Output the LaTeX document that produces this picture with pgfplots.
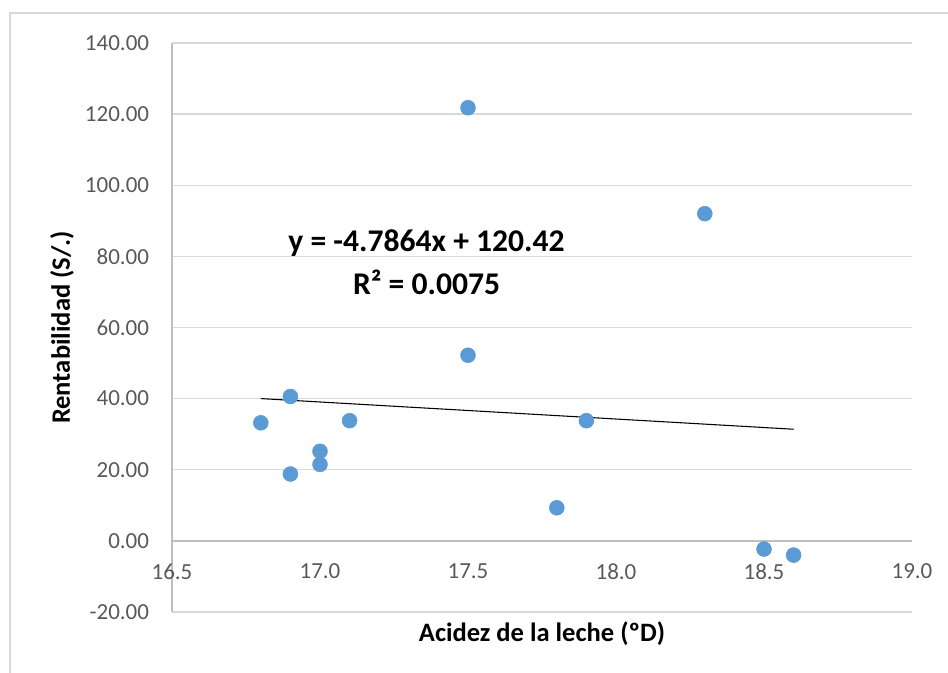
\documentclass[border=0pt]{standalone}
\usepackage{pgfplots}
\pgfplotsset{compat=1.18}
\usepackage{fontspec}
\setmainfont{Carlito}
\definecolor{ptblue}{HTML}{5B9BD5}
\definecolor{gridc}{HTML}{D9D9D9}
\definecolor{axisc}{HTML}{BFBFBF}
\definecolor{tickc}{HTML}{595959}
\begin{document}
\begin{tikzpicture}[x=0.75pt,y=0.75pt]
\useasboundingbox (0,0) rectangle (948,673);
\draw[gridc, line width=1.1pt] (10,0) -- (10,660) -- (948,660);
\begin{axis}[
  at={(129pt,45.75pt)}, anchor=south west,
  width=555pt, height=426.75pt, scale only axis,
  xmin=16.5, xmax=19, ymin=-20, ymax=140,
  enlargelimits=false, clip=false,
  axis x line=middle, axis y line=left,
  axis line style={-, axisc, line width=1.1pt},
  hide obscured x ticks=false, hide obscured y ticks=false,
  xtick={16.5,17,17.5,18,18.5,19},
  ytick={-20,0,20,40,60,80,100,120,140},
  major tick length=0pt,
  ymajorgrids, grid style={gridc, line width=1.1pt},
  /pgf/number format/assume math mode=true,
  xticklabel style={/pgf/number format/.cd, fixed, fixed zerofill, precision=1, /tikz/.cd, font=\fontsize{17.25}{20}\selectfont, text=tickc, anchor=north, inner sep=0pt, yshift=-17pt},
  yticklabel style={/pgf/number format/.cd, fixed, fixed zerofill, precision=2, /tikz/.cd, font=\fontsize{17.25}{20}\selectfont, text=tickc, anchor=east, inner sep=0pt, xshift=-17pt},
  xlabel={Acidez de la leche (ºD)},
  ylabel={Rentabilidad (S/.)},
  xlabel style={at={(axis description cs:0.5,-0.0387)}, anchor=center, font=\bfseries\fontsize{19.9}{24}\selectfont},
  ylabel style={at={(axis description cs:-0.1486,0.5)}, anchor=center, rotate=0, font=\bfseries\fontsize{19.9}{24}\selectfont},
]
\addplot[only marks, mark=*, mark size=5.6pt, mark options={fill=ptblue, draw=ptblue}] coordinates {
(16.8,33.2) (16.9,40.6) (16.9,18.8) (17.0,25.2) (17.0,21.5) (17.1,33.8)
(17.5,121.8) (17.5,52.2) (17.8,9.3) (17.9,33.8) (18.3,92.0) (18.5,-2.3) (18.6,-4.0)
};
\addplot[black, line width=0.8pt] coordinates {(16.8,40.01) (18.6,31.39)};
\node[font=\bfseries\fontsize{23.7}{28}\selectfont, anchor=center] at (axis cs:17.36,83.8) {y = -4.7864x + 120.42};
\node[font=\bfseries\fontsize{23.7}{28}\selectfont, anchor=center] at (axis cs:17.36,72.6) {R² = 0.0075};
\end{axis}
\end{tikzpicture}
\end{document}
